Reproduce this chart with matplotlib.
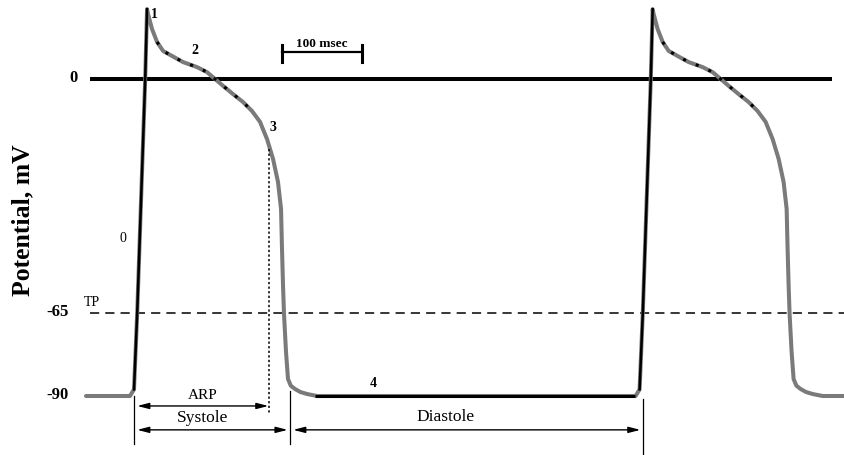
import numpy as np
import matplotlib.pyplot as plt

# one ventricular action potential: time after onset (ms) and membrane potential (mV)
ap_t = [-5, 0, 4, 14, 16.3, 17.5, 22.5, 28.8, 36.3, 47.5, 61.3, 78.8, 91.3, 101.3, 111.3,
        123.8, 136.3, 147.5, 157.5, 166.3, 173.8, 180, 183.8, 185, 186.3, 187.5, 190,
        192.5, 196, 201.3, 208, 216.3, 228.8]
ap_v = [-90, -88, -65, 0, 19.4, 18.1, 13.9, 10.3, 7.8, 6.4, 4.7, 3.3, 1.9, 0, -1.9,
        -4.2, -6.4, -8.9, -11.9, -16.7, -22.2, -28.6, -36.1, -47.2, -57.5, -65.3, -76.7,
        -84.9, -86.9, -87.9, -88.8, -89.4, -90]
rest_v = -90
threshold_v = -65
beat_onsets = [0, 632]
trace_start, trace_end = -60, 889

# cycle landmarks (ms)
arp_end = 169
systole_end = 195
diastole_end = 636
scale_bar = (185, 285)

# ticks drawn as text next to the trace
level_values = [0, -65, -90]
level_labels = ['0', '-65', '-90']

# build the full trace of two beats
t_trace, v_trace = [trace_start], [rest_v]
for t0 in beat_onsets:
    t_trace += [t0 + t for t in ap_t]
    v_trace += ap_v
t_trace.append(trace_end)
v_trace.append(rest_v)
t_trace = np.array(t_trace, dtype=float)
v_trace = np.array(v_trace, dtype=float)

# schematic, piecewise voltage axis
V_KNOTS = [-300, -90, -65, 0, 100]
P_KNOTS = [59 - 210 * 3.32, 59, 142, 376, 376 + 100 * 3.6]


def fwd(v):
    return np.interp(v, V_KNOTS, P_KNOTS)


def inv(p):
    return np.interp(p, P_KNOTS, V_KNOTS)


plt.rcParams['font.family'] = ['Liberation Serif', 'DejaVu Serif']

fig = plt.figure(figsize=(8.45, 4.56), dpi=100)
ax = fig.add_axes([0, 0, 1, 1])
ax.set_yscale('function', functions=(fwd, inv))
ax.set_xlim(-167.5, 888.75)
ax.set_ylim(float(inv(0)), float(inv(456)))
ax.axis('off')

# reference levels
ax.plot([-55, 872.5], [0, 0], color='black', lw=2.9, solid_capstyle='butt', zorder=1)
ax.plot([-55, trace_end], [threshold_v, threshold_v], color='black', lw=1.1,
        ls=(0, (6, 4)), zorder=1)

# membrane potential trace
ax.plot(t_trace, v_trace, color='#7a7a7a', lw=2.9, solid_capstyle='round',
        solid_joinstyle='round', zorder=2)
for t0 in beat_onsets:
    up = [t0 + t for t in ap_t[1:5]]
    ax.plot(up, ap_v[1:5], color='black', lw=1.8, zorder=3)
    sel = (t_trace >= t0 + 28) & (t_trace <= t0 + 148)
    ax.plot(t_trace[sel], v_trace[sel], color='black', lw=2.2, ls=(0, (1, 3.5)), zorder=3)
ax.plot([226, 626], [rest_v, rest_v], color='black', lw=2.2, solid_capstyle='butt', zorder=3)

# ARP marker and phase boundaries
ax.plot([arp_end, arp_end], [-19.4, -95.4], color='black', lw=1.1, ls=(0, (1.5, 1.5)))
ax.plot([0, 0], [-90, -104.5], color='black', lw=0.9)
ax.plot([systole_end, systole_end], [-88.5, -104.5], color='black', lw=0.9)
ax.plot([diastole_end, diastole_end], [-91, -120], color='black', lw=0.9)

arrow = dict(arrowstyle='<|-|>,head_length=0.7,head_width=0.18', color='black',
             lw=1.0, shrinkA=0, shrinkB=0)
ax.annotate('', xy=(4, -93), xytext=(arp_end - 1, -93), arrowprops=arrow)
ax.annotate('', xy=(4, -100.2), xytext=(systole_end - 3, -100.2), arrowprops=arrow)
ax.annotate('', xy=(systole_end + 4, -100.2), xytext=(diastole_end - 3, -100.2),
            arrowprops=arrow)

ax.text(86, -89.5, 'ARP', ha='center', va='center', fontsize=11)
ax.text(86, -96.3, 'Systole', ha='center', va='center', fontsize=12.5)
ax.text(389, -96, 'Diastole', ha='center', va='center', fontsize=12.5)

# time scale bar
ax.plot(scale_bar, [7.5, 7.5], color='black', lw=1.6)
for xb in scale_bar:
    ax.plot([xb, xb], [4.7, 9.4], color='black', lw=2.2)
ax.text(np.mean(scale_bar), 8.2, '100 msec', ha='center', va='bottom',
        fontsize=9.5, fontweight='bold')

# voltage levels and threshold
for val, lab in zip(level_values, level_labels):
    xpos = -76 if lab == '0' else -95
    ax.text(xpos, val + 0.6, lab, ha='center', va='center', fontsize=12, fontweight='bold')
ax.text(-52.5, -61.7, 'TP', ha='center', va='center', fontsize=10)
ax.text(-139, -38.9, 'Potential, mV', ha='center', va='center', rotation=90,
        fontsize=18.5, fontweight='bold')

# phase numbers
ax.text(25, 18.3, '1', ha='center', va='center', fontsize=10, fontweight='bold')
ax.text(76, 8.3, '2', ha='center', va='center', fontsize=10, fontweight='bold')
ax.text(174, -13.3, '3', ha='center', va='center', fontsize=10, fontweight='bold')
ax.text(-14, -43.9, '0', ha='center', va='center', fontsize=10)
ax.text(299, -85.8, '4', ha='center', va='center', fontsize=10, fontweight='bold')

fig.savefig('out.png', dpi=100)
